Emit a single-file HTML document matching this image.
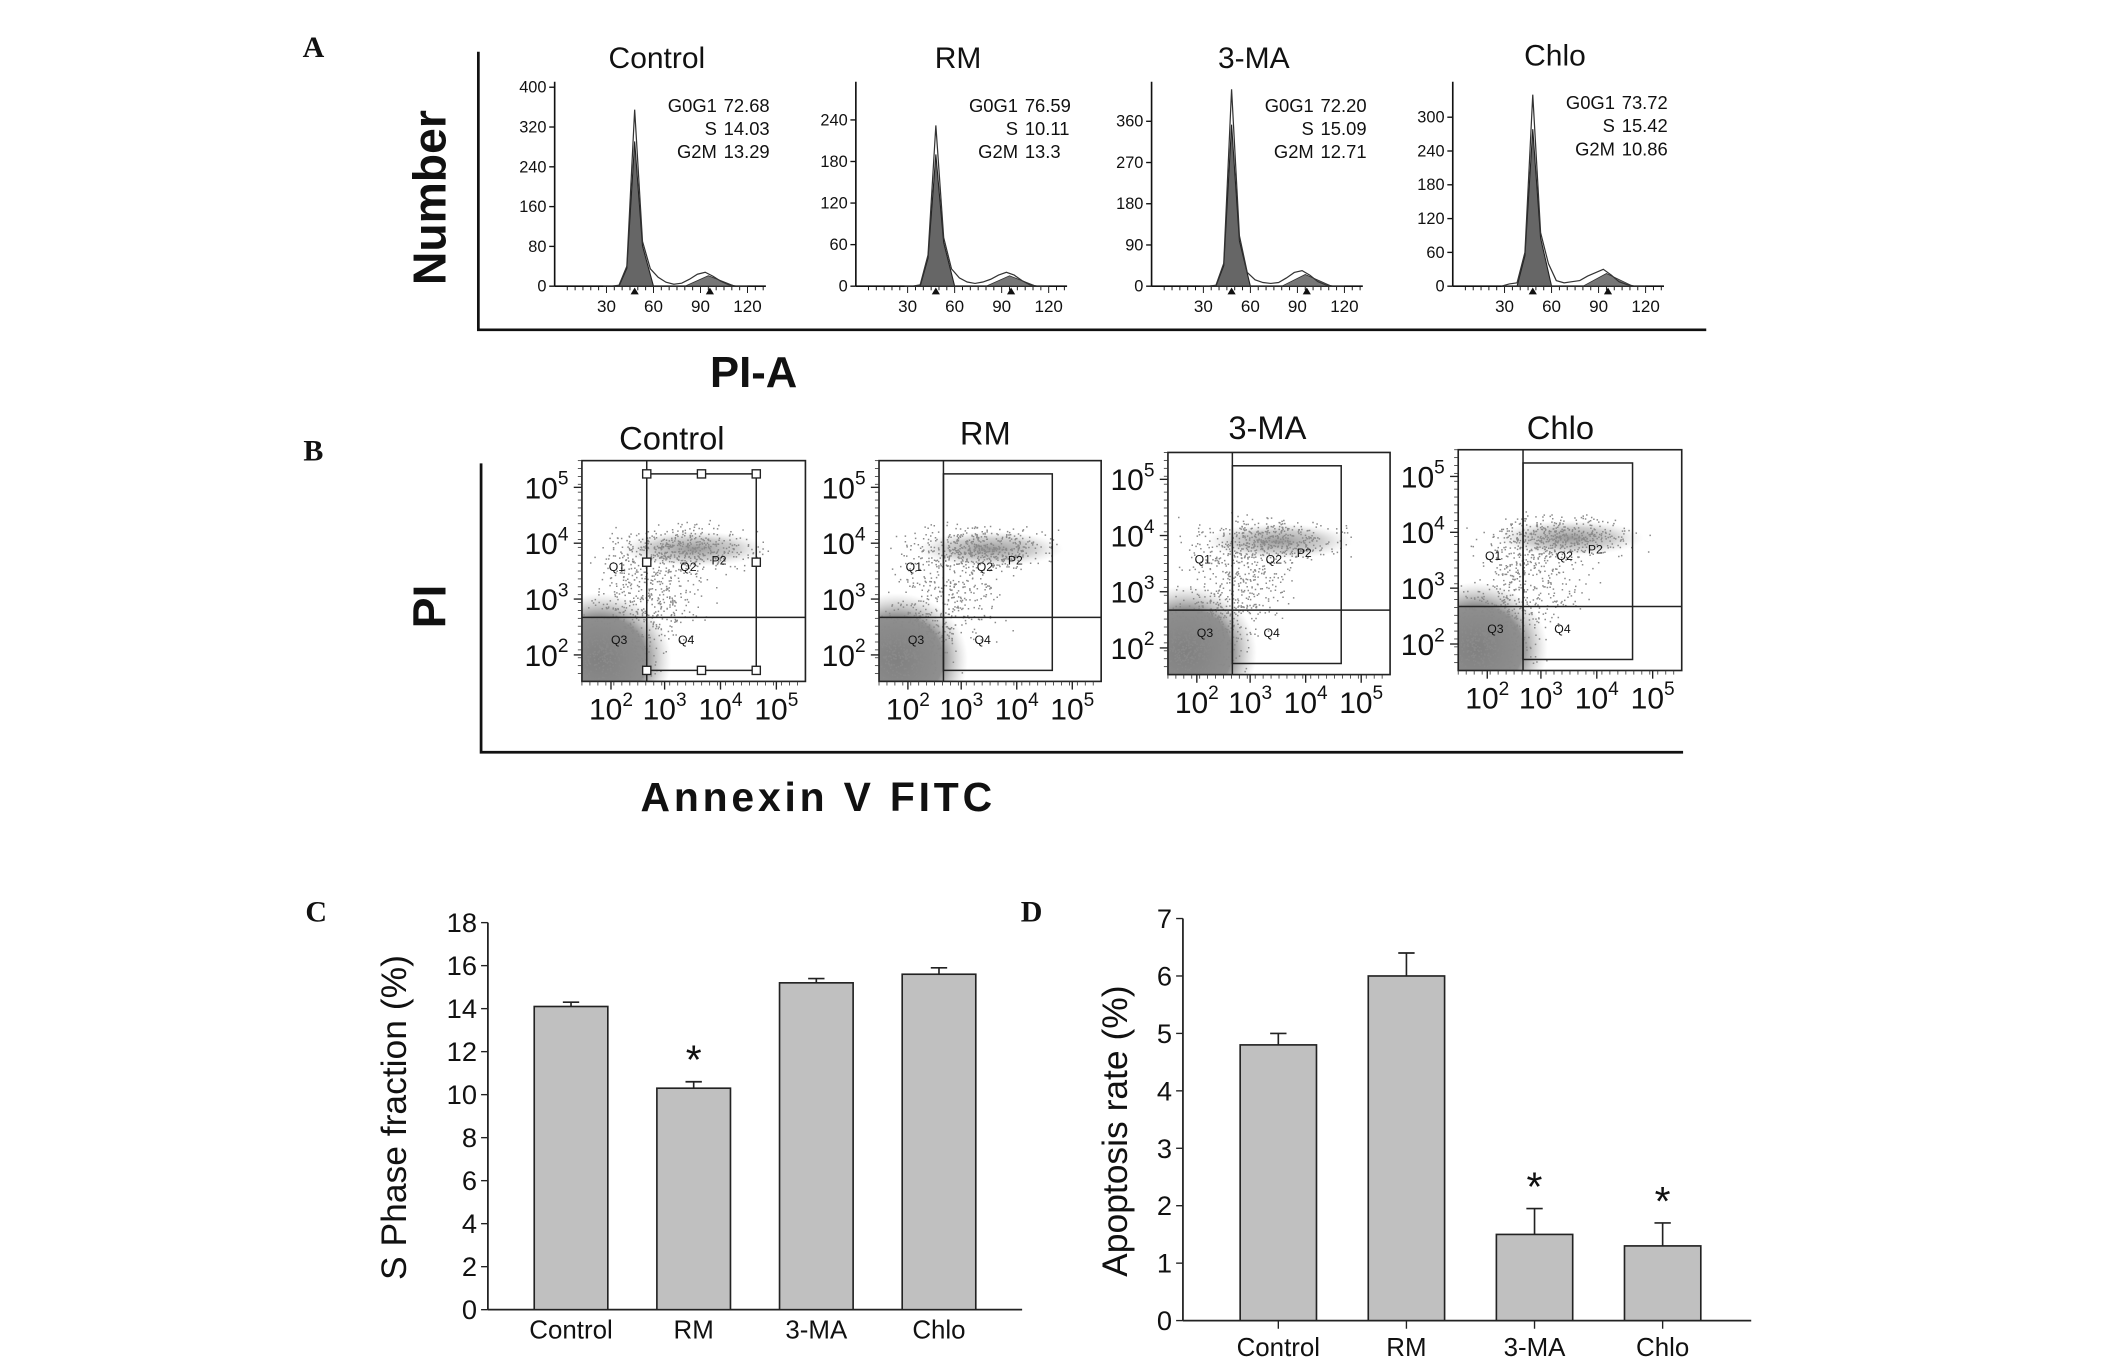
<!DOCTYPE html>
<html><head><meta charset="utf-8"><style>
html,body{margin:0;padding:0;background:#fff;}
svg{display:block;}
text{font-family:"Liberation Sans",Arial,sans-serif;fill:#111;}
.serif{font-family:"Liberation Serif",serif;font-weight:bold;}
</style></head><body>
<svg id="fig" width="2126" height="1371" viewBox="0 0 1560 1006" preserveAspectRatio="none" xmlns="http://www.w3.org/2000/svg">
<defs>
<radialGradient id="blob" cx="50%" cy="50%" r="50%">
<stop offset="0%" stop-color="#808080"/><stop offset="65%" stop-color="#8f8f8f"/><stop offset="100%" stop-color="#bbb" stop-opacity="0"/>
</radialGradient>
<radialGradient id="band" cx="50%" cy="50%" r="50%">
<stop offset="0%" stop-color="#999"/><stop offset="60%" stop-color="#bbb" stop-opacity="0.7"/><stop offset="100%" stop-color="#ddd" stop-opacity="0"/>
</radialGradient>
</defs>
<g id="root"></g>
</svg>
<script>
// ---------- Panel C/D data ----------
const categories = ["Control","RM","3-MA","Chlo"];
const sPhaseValues = [14.1, 10.3, 15.2, 15.6];
const sPhaseErrors = [0.2, 0.3, 0.2, 0.3];
const sPhaseStars = [false, true, false, false];
const sPhaseTicks = [0,2,4,6,8,10,12,14,16,18];
const apoValues = [4.8, 6.0, 1.5, 1.3];
const apoErrors = [0.2, 0.4, 0.45, 0.4];
const apoStars = [false, false, true, true];
const apoTicks = [0,1,2,3,4,5,6,7];
// ---------- Panel A data ----------
const histTitles = ["Control","RM","3-MA","Chlo"];
const histYMax = [400, 240, 360, 300];
const histYStep = [80, 60, 90, 60];
const histBins = [30,35,40,45,50,55,60,65,70,75,80,85,90,95,100,105,110,115,120];
const histCounts = [
 [0,0,2,40,355,90,35,18,8,4,6,14,24,28,20,10,3,0,0],
 [0,0,2,45,232,70,25,12,6,4,6,10,16,20,16,8,2,0,0],
 [0,0,2,50,430,110,30,14,8,6,8,18,30,34,24,10,3,0,0],
 [0,4,6,60,340,95,40,10,6,8,10,18,24,30,20,8,3,0,0]
];
const histStats = [
 ["72.68","14.03","13.29"],["76.59","10.11","13.3"],["72.20","15.09","12.71"],["73.72","15.42","10.86"]
];
const histTicksX = [30,60,90,120];
// ---------- Panel B data ----------
const scatterTitles = ["Control","RM","3-MA","Chlo"];
const decadeLabels = ["2","3","4","5"];

const NS="http://www.w3.org/2000/svg";
const root=document.getElementById('root');
const defs=document.querySelector('defs');
function el(tag,attrs,parent){const e=document.createElementNS(NS,tag);for(const k in attrs)e.setAttribute(k,attrs[k]);(parent||root).appendChild(e);return e;}
function txt(x,y,s,size,attrs,parent){const t=el('text',Object.assign({x:x,y:y,'font-size':size},attrs||{}),parent);t.textContent=s;return t;}

// Panel letters
[["A",230,42],["B",230,338],["C",232,676],["D",757,676]].forEach(p=>{
 const t=txt(p[1],p[2],p[0],22,{'class':'serif','text-anchor':'middle'});
 
 
});

// ================= Panel A =================
const gA=el('g',{});


el('polyline',{points:'351,38 351,242 1252,242',fill:'none',stroke:'#111','stroke-width':2},gA);
let t=txt(318,145,'Number',34,{'font-weight':'bold','text-anchor':'middle',transform:'rotate(-90 318 145)','dominant-baseline':'middle'},gA);


t=txt(553,284,'PI-A',32,{'font-weight':'bold','text-anchor':'middle'},gA);


const histAxisX=[407,628,845,1066];
const histTitleY=[50,50,50,48];
histTitles.forEach((name,i)=>{
 const g=el('g',{},gA);
 
 
 const ax=histAxisX[i], y0=210, top=60;
 const topTickY = i===0?64:(i===1?88:(i===2?89:86));
 const ys=v=>y0-(v/histYMax[i])*(y0-topTickY);
 const xs=v=>ax+3.5+v*1.15;
 t=txt(ax+75,histTitleY[i],name,22,{'text-anchor':'middle'},g);
 
 
 el('line',{x1:ax,y1:top,x2:ax,y2:y0,stroke:'#111','stroke-width':1.2},g);
 el('line',{x1:ax,y1:y0,x2:ax+155,y2:y0,stroke:'#111','stroke-width':1.2},g);
 for(let v=0;v<=histYMax[i];v+=histYStep[i]){
  el('line',{x1:ax-4,y1:ys(v),x2:ax,y2:ys(v),stroke:'#111'},g);
  txt(ax-6,ys(v)+4,String(v),12,{'text-anchor':'end'},g);
 }
 for(let v=5;v<135;v+=5){el('line',{x1:xs(v),y1:y0,x2:xs(v),y2:y0+(v%30===0?5:3),stroke:'#111','stroke-width':0.7},g);}
 histTicksX.forEach(v=>txt(xs(v),y0+19,String(v),12.5,{'text-anchor':'middle'},g));
 const c=histCounts[i];
 let d='M'+xs(histBins[0])+','+y0;
 histBins.forEach((b,k)=>{d+=' L'+xs(b-2)+','+ys(c[k]);});
 d+=' L'+xs(histBins[histBins.length-1])+','+y0+' Z';
 let dg1='M'+xs(38)+','+y0+' L'+xs(43)+','+ys(c[3]*0.9)+' L'+xs(48)+','+ys(c[4]*0.82)+' L'+xs(53)+','+ys(c[5]*0.9)+' L'+xs(60)+','+y0+' Z';
 const p1=el('path',{d:dg1,fill:'#666',stroke:'#222','stroke-width':0.8},g);
 
 
 let dg2='M'+xs(80)+','+y0+' L'+xs(95)+','+ys(c[13]*0.75)+' L'+xs(112)+','+y0+' Z';
 const p2=el('path',{d:dg2,fill:'#777',stroke:'#333','stroke-width':0.6},g);
 
 
 const outline=el('path',{d:d,fill:'none',stroke:'#333','stroke-width':0.9},g);
 
 
 el('path',{d:'M'+(xs(48)-3)+','+(y0+6)+' l3,-5 l3,5 Z M'+(xs(96)-3)+','+(y0+6)+' l3,-5 l3,5 Z',fill:'#111'},g);
 const sx=ax+122, sy=i===3?80:82;
 const st=histStats[i];
 [['G0G1',st[0]],['S',st[1]],['G2M',st[2]]].forEach((r,k)=>{
  txt(sx-3,sy+k*17,r[0],13.5,{'text-anchor':'end'},g);
  txt(sx+2,sy+k*17,r[1],13.5,{},g);
 });
});

// ================= Panel B =================
const gB=el('g',{});


el('polyline',{points:'353,340 353,552 1235,552',fill:'none',stroke:'#111','stroke-width':2},gB);
t=txt(318,445,'PI',34,{'font-weight':'bold','text-anchor':'middle',transform:'rotate(-90 318 445)','dominant-baseline':'middle'},gB);


t=txt(470,595,'Annexin V   FITC',30,{'font-weight':'bold','xml:space':'preserve',textLength:258,lengthAdjust:'spacing'},gB);


const boxes=[[427,338,164,162],[645,338,163,162],[857,332,163,163],[1070,330,164,162]];
const titleY=[330,326,322,322];
const titleX=[493,723,930,1145];
let seed=7;
function rnd(){seed=(seed*16807)%2147483647;return seed/2147483647;}
function gauss(){return (rnd()+rnd()+rnd()-1.5)/1.5;}
scatterTitles.forEach((name,i)=>{
 const [bx,by,bw,bh]=boxes[i];
 const g=el('g',{},gB);
 
 
 const cp=el('clipPath',{id:'cp'+i},defs);
 el('rect',{x:bx,y:by,width:bw,height:bh},cp);
 t=txt(titleX[i],titleY[i],name,24,{'text-anchor':'middle'},g);
 
 
 const gx=bx+0.29*bw, gy=by+0.71*bh;
 const dg=el('g',{'clip-path':'url(#cp'+i+')'},g);
 el('ellipse',{cx:bx+0.08*bw,cy:by+0.9*bh,rx:0.32*bw,ry:0.3*bh,fill:'url(#blob)'},dg);
 el('ellipse',{cx:bx+0.5*bw,cy:by+0.4*bh,rx:0.33*bw,ry:0.08*bh,fill:'url(#band)'},dg);
 let dots='';
 for(let k=0;k<1400;k++){
  let x,y,r=rnd();
  if(r<0.4){x=bx+0.12*bw+gauss()*0.3*bw;y=by+0.85*bh+gauss()*0.25*bh;}
  else if(r<0.75){x=bx+0.45*bw+gauss()*0.45*bw;y=by+0.4*bh+gauss()*0.14*bh;}
  else {x=bx+0.3*bw+gauss()*0.35*bw;y=by+0.62*bh+gauss()*0.3*bh;}
  if(x>bx+1&&x<bx+bw-2&&y>by+2&&y<by+bh-2) dots+='M'+x.toFixed(1)+','+y.toFixed(1)+'h1.1';
 }
 el('path',{d:dots,stroke:'#8a8a8a','stroke-width':1.1,fill:'none'},dg);
 el('rect',{x:bx,y:by,width:bw,height:bh,fill:'none',stroke:'#222','stroke-width':1.2},g);
 el('line',{x1:gx,y1:by,x2:gx,y2:by+bh,stroke:'#222','stroke-width':1.1},g);
 el('line',{x1:bx,y1:gy,x2:bx+bw,y2:gy,stroke:'#222','stroke-width':1.1},g);
 const gate=el('rect',{x:gx,y:by+0.06*bh,width:0.78*bw-(gx-bx),height:0.89*bh,fill:'none',stroke:'#222','stroke-width':1.1},g);
 
 
 if(i===0){
  const gw=0.78*bw-(gx-bx);
  [[gx,by+0.06*bh],[gx+gw/2,by+0.06*bh],[gx+gw,by+0.06*bh],[gx,by+0.46*bh],[gx+gw,by+0.46*bh],[gx,by+0.95*bh],[gx+gw/2,by+0.95*bh],[gx+gw,by+0.95*bh]].forEach(p=>el('rect',{x:p[0]-3,y:p[1]-3,width:6,height:6,fill:'#fff',stroke:'#222'},g));
 }
 [['Q1',0.12,0.5],['Q2',0.44,0.5],['P2',0.58,0.47],['Q3',0.13,0.83],['Q4',0.43,0.83]].forEach(q=>txt(bx+q[1]*bw,by+q[2]*bh,q[0],9,{fill:'#333'},g));
 const dX=[0.13,0.37,0.62,0.87];
 decadeLabels.forEach((p,k)=>{
  const ly=by+bh*(0.88-0.253*k);
  el('line',{x1:bx-6,y1:ly,x2:bx,y2:ly,stroke:'#222'},g);
  const tl=txt(bx-26,ly+8,'10',22,{'text-anchor':'middle'},g);
  const sp=el('tspan',{dy:-10,'font-size':14},tl); sp.textContent=p;
  const lx=bx+bw*dX[k];
  el('line',{x1:lx,y1:by+bh,x2:lx,y2:by+bh+6,stroke:'#222'},g);
  const bl=txt(lx,by+bh+28,'10',22,{'text-anchor':'middle'},g);
  const sp2=el('tspan',{dy:-10,'font-size':14},bl); sp2.textContent=p;
 });
 for(let k=0;k<28;k++){
  el('line',{x1:bx+k*bw/28,y1:by+bh,x2:bx+k*bw/28,y2:by+bh+3,stroke:'#333','stroke-width':0.6},g);
  el('line',{x1:bx-3,y1:by+k*bh/28,x2:bx,y2:by+k*bh/28,stroke:'#333','stroke-width':0.6},g);
 }
});

// ================= Bar charts =================
function barChart(cfg){
 const g=el('g',{});
 
 
 const {ax,y0,yTop,vmax,xEnd,bars,barW}=cfg;
 const ys=v=>y0-(v/vmax)*(y0-yTop);
 el('line',{x1:ax,y1:yTop,x2:ax,y2:y0,stroke:'#222','stroke-width':1.3},g);
 el('line',{x1:ax,y1:y0,x2:xEnd,y2:y0,stroke:'#222','stroke-width':1.3},g);
 cfg.ticks.forEach(v=>{
  el('line',{x1:ax-5,y1:ys(v),x2:ax,y2:ys(v),stroke:'#222'},g);
  const tt=txt(ax-8,ys(v)+7,String(v),20,{'text-anchor':'end'},g);
  
  
 });
 const yt=txt(cfg.titleX,cfg.titleY,cfg.title,26,{'text-anchor':'middle',transform:'rotate(-90 '+cfg.titleX+' '+cfg.titleY+')'},g);
 
 
 categories.forEach((c,i)=>{
  const cx=bars[i];
  const v=cfg.values[i], e=cfg.errors[i];
  el('line',{x1:cx,y1:ys(v+e),x2:cx,y2:ys(v),stroke:'#222','stroke-width':1.2},g);
  el('line',{x1:cx-6,y1:ys(v+e),x2:cx+6,y2:ys(v+e),stroke:'#222','stroke-width':1.2},g);
  const b=el('rect',{x:cx-barW/2,y:ys(v),width:barW,height:y0-ys(v),fill:'#c0c0c0',stroke:'#222','stroke-width':1.2},g);
  
  
  if(cfg.tickMarks) el('line',{x1:cx,y1:y0,x2:cx,y2:y0+6,stroke:'#222'},g);
  const lt=txt(cx,cfg.labelY,c,19,{'text-anchor':'middle'},g);
  
  
  if(cfg.stars[i]){
   const s=txt(cx,ys(v+e)-6,'*',30,{'text-anchor':'middle'},g);
   
   
  }
 });
}
barChart({name:'panel-c-s-phase-chart',ax:358,y0:961,yTop:677,vmax:18,xEnd:750,bars:[419,509,599,689],barW:54,
 ticks:sPhaseTicks,values:sPhaseValues,errors:sPhaseErrors,stars:sPhaseStars,labelY:982,
 title:'S Phase fraction (%)',titleX:298,titleY:820,tickMarks:false});
barChart({name:'panel-d-apoptosis-chart',ax:868,y0:969,yTop:674,vmax:7,xEnd:1285,bars:[938,1032,1126,1220],barW:56,
 ticks:apoTicks,values:apoValues,errors:apoErrors,stars:apoStars,labelY:995,
 title:'Apoptosis rate (%)',titleX:827,titleY:830,tickMarks:true});
</script>
</body></html>
